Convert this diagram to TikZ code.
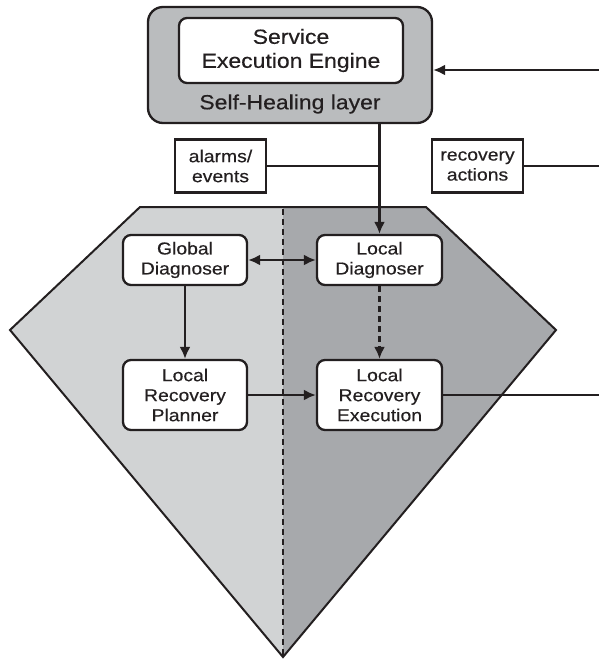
\documentclass[tikz,border=0pt]{standalone}
\usepackage{fontspec}
\setmainfont{Liberation Sans}[FakeStretch=1.12,FakeBold=0.4]
\usetikzlibrary{arrows.meta}
\definecolor{ink}{HTML}{231F20}
\definecolor{paleside}{HTML}{D1D3D4}
\definecolor{darkside}{HTML}{A7A9AC}
\definecolor{layergray}{HTML}{BABCBE}
\begin{document}
\begin{tikzpicture}[x=1pt,y=-1pt,
  line width=2.3pt,
  every node/.style={text=ink},
  bigtxt/.style={font=\fontsize{20.5}{24}\selectfont},
  smalltxt/.style={font=\fontsize{17.3}{20}\selectfont},
  modbox/.style={draw=ink, fill=white, rounded corners=8pt, align=center,
    inner sep=0pt, smalltxt},
  labelbox/.style={draw=ink, fill=white, align=center, inner sep=0pt,
    minimum width=91pt, minimum height=53pt, smalltxt},
  tip/.tip={Latex[length=12pt,width=11pt]},
  arr/.style={draw=ink, -tip},
  link/.style={draw=ink}]
\useasboundingbox (0,0) rectangle (599,659);

% two halves of the diamond
\fill[paleside] (140,207) -- (283,207) -- (283,657) -- (10,330) -- cycle;
\fill[darkside] (283,207) -- (426,207) -- (556,330) -- (283,657) -- cycle;
\draw[ink, line width=2pt, line join=miter]
  (140,207) -- (426,207) -- (556,330) -- (283,657) -- (10,330) -- cycle;
\draw[ink, line width=2pt, dash pattern=on 6pt off 4pt] (283,209) -- (283,655);

% self-healing layer around the execution engine
\node[draw=ink, fill=layergray, rounded corners=15pt, minimum width=284pt,
  minimum height=116pt, inner sep=0pt] (layer) at (290,65) {};
\node[draw=ink, fill=white, rounded corners=8pt, minimum width=224pt,
  minimum height=65pt, inner sep=0pt, align=center, bigtxt] (engine) at (291,50.5)
  {Service\\Execution Engine};
\node[bigtxt, inner sep=0pt] (layertxt) at (290,104) {Self-Healing layer};

% message labels
\node[labelbox] (alarms) at (220.5,166) {alarms/\\events};
\node[labelbox] (recov) at (477.5,166) {recovery\\actions};

% diagnosis and recovery modules
\node[modbox, minimum width=124pt, minimum height=50pt] (gd) at (185,260) {Global\\Diagnoser};
\node[modbox, minimum width=125pt, minimum height=50pt] (ld) at (379.5,260) {Local\\Diagnoser};
\node[modbox, minimum width=124pt, minimum height=70pt] (lrp) at (185,395) {Local\\Recovery\\Planner};
\node[modbox, minimum width=125pt, minimum height=70pt] (lre) at (379.5,395) {Local\\Recovery\\Execution};

% free ends on the right border
\coordinate (inR) at (599,70);
\coordinate (recR) at (599,166);
\coordinate (exR) at (599,395);

% connectors
\draw[arr] (inR) -- (inR -| layer.east);
\draw[arr] (layer.south -| ld.north) -- (ld.north);
\draw[link] (alarms.east) -- (alarms.east -| ld.north);
\draw[link] (recov.east) -- (recR);
\draw[draw=ink, tip-tip] (gd.east) -- (ld.west);
\draw[arr] (gd.south) -- (lrp.north);
\draw[arr, dash pattern=on 6pt off 4pt] (ld.south) -- (lre.north);
\draw[arr] (lrp.east) -- (lre.west);
\draw[link] (lre.east) -- (exR);
\end{tikzpicture}
\end{document}
